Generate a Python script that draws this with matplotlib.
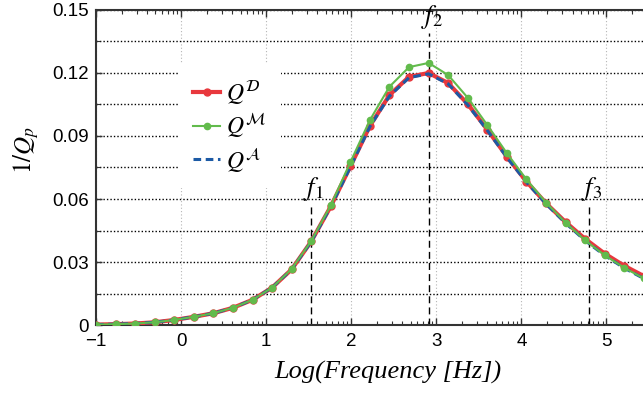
import numpy as np
import matplotlib
matplotlib.use("Agg")
from matplotlib import pyplot as plt

plt.rcParams["mathtext.fontset"] = "stix"
plt.rcParams["font.family"] = ["Liberation Sans", "DejaVu Sans"]

# log10 of frequency
log_f = [-1.00, -0.77, -0.54, -0.31, -0.08, 0.15, 0.38, 0.61, 0.84, 1.07,
         1.30, 1.53, 1.76, 1.99, 2.22, 2.45, 2.68, 2.91, 3.14, 3.37,
         3.60, 3.83, 4.06, 4.29, 4.52, 4.75, 4.98, 5.21, 5.44]

q_d = [0.0002, 0.0004, 0.0007, 0.0013, 0.0024, 0.0039, 0.0056, 0.0082, 0.0120, 0.0178,
       0.0265, 0.0398, 0.0565, 0.0755, 0.0948, 0.1095, 0.1182, 0.1200, 0.1152, 0.1052,
       0.0930, 0.0802, 0.0683, 0.0580, 0.0490, 0.0410, 0.0340, 0.0282, 0.0233]

q_m = [0.0002, 0.0004, 0.0007, 0.0013, 0.0024, 0.0039, 0.0056, 0.0082, 0.0120, 0.0178,
       0.0267, 0.0400, 0.0570, 0.0775, 0.0976, 0.1135, 0.1228, 0.1248, 0.1190, 0.1082,
       0.0952, 0.0818, 0.0693, 0.0583, 0.0487, 0.0403, 0.0332, 0.0272, 0.0222]

q_a = [0.0002, 0.0004, 0.0007, 0.0013, 0.0024, 0.0039, 0.0056, 0.0082, 0.0120, 0.0178,
       0.0265, 0.0397, 0.0563, 0.0752, 0.0945, 0.1090, 0.1178, 0.1196, 0.1148, 0.1048,
       0.0927, 0.0798, 0.0680, 0.0577, 0.0485, 0.0402, 0.0331, 0.0271, 0.0221]

f_marks = [1.53, 2.92, 4.79]
f_tops = [0.057, 0.139, 0.057]
f_names = [r"$f_1$", r"$f_2$", r"$f_3$"]

y_ticks = [0, 0.03, 0.06, 0.09, 0.12, 0.15]
y_labels = ["0", "0.03", "0.06", "0.09", "0.12", "0.15"]
x_ticks = [-1, 0, 1, 2, 3, 4, 5]
x_labels = ["\u22121", "0", "1", "2", "3", "4", "5"]

red = "#e8383d"
green = "#62bb4c"
blue = "#1c5aa5"


def main():
    fig = plt.figure(figsize=(6.43, 3.95), dpi=100)
    ax = fig.add_axes([0.1493, 0.1772, 0.8507, 0.7975])

    l_d, = ax.plot(log_f, q_d, color=red, lw=3, marker="o", ms=5, label=r"$Q^{\mathcal{D}}$", zorder=3)
    l_a, = ax.plot(log_f, q_a, color=blue, lw=2.2, ls=(0, (2.5, 1.5)), label=r"$Q^{\mathcal{A}}$", zorder=4)
    l_m, = ax.plot(log_f, q_m, color=green, lw=1.5, marker="o", ms=4.5, label=r"$Q^{\mathcal{M}}$", zorder=5)

    for xf, top, name in zip(f_marks, f_tops, f_names):
        ax.plot([xf, xf], [0, top], color="black", lw=1, ls=(0, (5, 3)), zorder=2)
        ax.text(xf + 0.03, top + 0.001, name, fontsize=19, ha="center", va="bottom")

    ax.set_xlim(-1, 5.43)
    ax.set_ylim(0, 0.15)

    ax.set_xticks(x_ticks, x_labels)
    minor = [n + np.log10(m) for n in range(-1, 6) for m in range(2, 10)]
    ax.set_xticks([v for v in minor if v < 5.43], minor=True)
    ax.set_yticks(y_ticks, y_labels)
    ax.set_yticks([0.015, 0.045, 0.075, 0.105, 0.135], minor=True)

    ax.tick_params(axis="x", which="major", direction="in", length=5, width=1,
                   top=True, labelsize=13.5, pad=6, color="#333333")
    ax.tick_params(axis="x", which="minor", direction="in", length=3, width=0.8,
                   top=True, color="#333333")
    ax.tick_params(axis="y", which="major", direction="in", length=4, width=1,
                   labelsize=13.5, pad=5, color="#333333")
    ax.tick_params(axis="y", which="minor", direction="in", length=3, width=0.8,
                   color="#333333")

    ax.xaxis.grid(True, which="major", color="#b5b5b5", lw=0.8, ls=(0, (1, 2)))
    ax.yaxis.grid(True, which="both", color="black", lw=1, ls=(0, (1, 1.5)))
    ax.set_axisbelow(True)

    for side in ["left", "bottom", "top"]:
        ax.spines[side].set_linewidth(1.5)
        ax.spines[side].set_color("#333333")
    ax.spines["right"].set_visible(False)

    ax.set_xlabel("Log(Frequency [Hz])", family="Liberation Serif", style="italic", fontsize=19)
    ax.xaxis.set_label_coords(0.534, -0.115)
    ax.set_ylabel(r"$1/Q_p$", fontsize=18)
    ax.yaxis.set_label_coords(-0.1, 0.555)

    leg = ax.legend(handles=[l_d, l_m, l_a], loc="upper left", bbox_to_anchor=(0.13, 0.865),
                    fontsize=17, frameon=True, facecolor="white", edgecolor="none", framealpha=1,
                    handlelength=1.15, handletextpad=0.25, labelspacing=0.22,
                    borderpad=0.6, fancybox=False)
    leg.set_zorder(6)

    fig.savefig("out.png", dpi=100)


if __name__ == "__main__":
    main()
